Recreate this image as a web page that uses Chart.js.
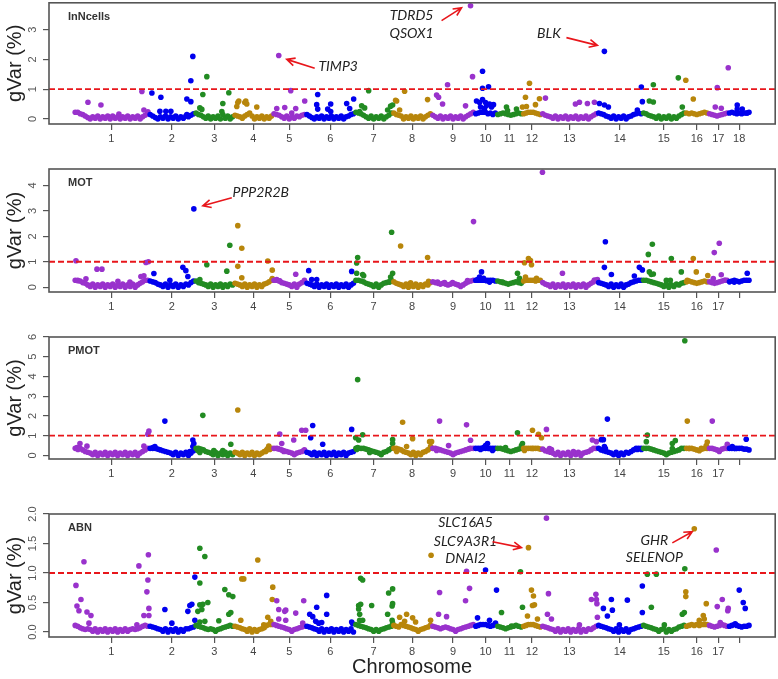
<!DOCTYPE html>
<html>
<head>
<meta charset="utf-8">
<script src="https://cdn.jsdelivr.net/npm/chart.js@4.4.1/dist/chart.umd.min.js"></script>
<style>
  body { margin: 0; background: #fff; }
  #wrap { position: relative; width: 778px; height: 679px; }
  .panel { position: absolute; left: 0; }
</style>
</head>
<body>
<div id="wrap">
  <canvas class="panel" id="p1" width="778" height="150" style="top:0px"></canvas>
  <canvas class="panel" id="p2" width="778" height="168" style="top:150px"></canvas>
  <canvas class="panel" id="p3" width="778" height="167" style="top:318px"></canvas>
  <canvas class="panel" id="p4" width="778" height="184" style="top:495px"></canvas>
</div>
<script>
// chromosomes and their width in marker blocks
const chromosomes = ["1","2","3","4","5","6","7","8","9","10","11","12","13","14","15","16","17","18"];
const chromSizes = [75, 46, 39, 39, 33, 49, 38, 39, 43, 22, 26, 19, 56, 45, 43, 23, 20, 22];
const chromColors = ["#9932CC", "#0000EE", "#228B22", "#B8860B"];
const threshold = 1;

// near-zero markers, one digit per marker block (digit * step = gVar %)
const innStep = 0.025, motStep = 0.03, pmotStep = 0.04, abnStep = 0.014;
const innBase = ["997642031403140413031403140357","642031403140314357","8653140314061403","5431468403140314",
  "7653140314356","64203140314031403467","987531403140358","8654031403140357","53140314031403579","789997868",
  "6787656787","78999876","7543140314031403140357","876431403140346787","87543140314031468","878767898","76545678","898787889"];
const motBase = ["998653140314031403140314035799","876431403140314368","8654314031403143","5431403140314579",
  "9986543140469","54314031403140314035","998754314035679","7543140314031436","76545434543135789","999999998",
  "8765456765","89999899","6431403140314031403579","654314031403467899","99876543140314356","787656787","76567899","789878999"];
const pmotBase = ["999754314031403140314031403579","999876543140314036","9987543140314031","4314031403135799",
  "9987654313457","43140314031403140345","999987654314579","9987543140314579","99876543134567899","999999999",
  "9987656789","99999998","8654314031403140345799","976543140314357999","99987654313456799","999876899","99876899","999999887"];
const abnBase = ["875434314031403140314134345787","765431403140314456","8765434313456787","7654314031345899",
  "9876543134567","76543140314031403140","987654313134567","8769876543134568","76545654313456789","789998789",
  "7654567876","78999876","7654314031403140314357","876543140314034567","87654313403134678","789898999","87678987","789876778"];

// [chromosome, position in chromosome, gVar %]
const innPeaks = [
  [1,14,0.56],[1,27,0.47],[1,45,0.16],[1,68,0.92],[1,70,0.3],[1,74,0.24],
  [2,3,0.87],[2,12,0.73],[2,11,0.26],[2,17,0.26],[2,22,0.26],[2,38,0.67],[2,42,0.58],[2,42,1.28],[2,44,2.1],[2,38,0.15],
  [3,5,0.37],[3,7,0.32],[3,8,0.82],[3,12,1.42],[3,27,0.25],[3,28,0.52],[3,34,0.88],
  [4,3,0.42],[4,4,0.55],[4,5,0.6],[4,11,0.55],[4,12,0.6],[4,13,0.5],[4,23,0.4],
  [5,4,0.35],[5,6,2.13],[5,12,0.38],[5,18,0.95],[5,19,0.2],[5,23,0.35],[5,32,0.6],
  [6,11,0.48],[6,12,0.82],[6,12,0.33],[6,22,0.33],[6,25,0.5],[6,25,0.25],[6,41,0.52],[6,44,0.35],[6,48,0.67],
  [7,5,0.25],[7,7,0.44],[7,10,0.37],[7,14,0.95],[7,33,0.3],[7,36,0.43],[7,38,0.47],
  [8,3,0.63],[8,4,0.6],[8,7,0.3],[8,12,0.93],[8,35,0.65],
  [9,5,0.8],[9,7,0.73],[9,11,0.5],[9,16,1.15],[9,34,0.44],[9,39,3.8],[9,41,1.42],
  [10,2,0.6],[10,5,0.55],[10,6,0.4],[10,8,0.65],[10,8,1.03],[10,8,1.6],[10,10,0.35],[10,11,0.55],[10,12,0.45],
  [10,14,1.08],[10,15,0.5],[10,17,0.4],[10,19,0.48],
  [11,10,0.4],[11,11,0.28],[11,20,0.33],
  [12,0,0.4],[12,3,0.73],[12,4,0.42],[12,7,1.2],[12,13,0.48],[12,17,0.68],
  [13,4,0.7],[13,34,0.5],[13,38,0.56],[13,46,0.52],[13,53,0.56],
  [14,2,0.52],[14,7,0.47],[14,7,2.27],[14,11,0.4],[14,40,0.3],[14,44,1.07],[14,45,0.58],
  [15,7,0.6],[15,11,0.57],[15,11,1.15],[15,36,1.38],[15,40,0.4],
  [16,0.5,1.3],[16,8,0.67],
  [17,7,0.4],[17,9,1.05],[17,13,0.36],[17,20,1.72],
  [18,9,0.47],[18,9,0.33],[18,14,0.33],[18,19,0.2]
];
const motPeaks = [
  [1,2,1.04],[1,4,0.25],[1,12,0.33],[1,23,0.71],[1,28,0.71],[1,44,0.23],[1,56,0.2],[1,67,0.42],[1,70,0.45],[1,72,0.97],[1,74.5,1.0],
  [2,5,0.54],[2,21,0.27],[2,34,0.78],[2,37,0.65],[2,39,0.42],[2,45,3.08],
  [3,5,0.3],[3,12,0.88],[3,32,0.63],[3,35,1.65],
  [4,4,2.42],[4,4,0.82],[4,8,1.53],[4,8,0.37],[4,34,1.03],[4,38.5,0.67],[4,38.5,0.34],
  [5,4,0.3],[5,7,0.25],[5,23,0.51],
  [6,3,0.65],[6,6,0.3],[6,11,0.3],[6,46,0.62],
  [7,2,0.95],[7,2,0.55],[7,3,1.17],[7,8,0.5],[7,9,0.45],[7,35,0.2],[7,36,0.4],[7,37,2.16],[7,38,0.55],
  [8,8,1.62],[8,18,0.17],[8,35,1.17],[8,36,0.23],
  [9,6,0.2],[9,13,0.18],[9,21,0.18],[9,36,0.26],[9,42,2.58],
  [10,3,0.3],[10,5,0.4],[10,7,0.6],[10,9,0.35],[10,12,0.25],[10,15,0.2],
  [11,6,0.2],[11,21,0.55],[11,23,0.35],
  [12,2,0.96],[12,3,0.4],[12,6,1.13],[12,8,1.05],[12,9,0.88],[12,14,0.35],
  [13,1,4.52],[13,21,0.55],[13,53,0.28],[13,56,0.3],
  [14,7,0.78],[14,8,1.79],[14,14,0.5],[14,37,0.44],[14,42,0.78],[14,45,0.68],
  [15,6,1.29],[15,7,0.6],[15,9,0.5],[15,10,1.69],[15,11,0.52],[15,24,0.27],[15,28,0.27],[15,29,1.13],[15,39,0.6],
  [16,2,0.27],[16,8,1.13],[16,11,0.6],[16,22.5,0.46],
  [17,5,0.34],[17,6,1.36],[17,11,1.73],[17,13,0.49],[17,17,0.27],
  [18,6,0.2],[18,19,0.55]
];
const pmotPeaks = [
  [1,3,0.4],[1,4,0.3],[1,6,0.6],[1,13,0.47],[1,70,0.47],[1,74,1.08],[1,75,1.23],
  [2,4,0.4],[2,6,0.45],[2,16,1.74],[2,41,0.2],[2,44,0.78],[2,44,0.45],[2,45,0.6],
  [3,3,0.25],[3,5,0.15],[3,8,2.03],[3,19,0.25],[3,28,0.25],[3,36,0.57],
  [4,4,2.3],[4,32,0.2],[4,34,0.35],[4,35,0.47],[4,36,0.3],
  [5,5,0.35],[5,7,1.08],[5,9,0.6],[5,11,0.2],[5,21,0.78],[5,29,1.28],[5,31,0.25],[5,33,1.28],
  [6,5,0.9],[6,7,1.52],[6,17,0.57],[6,46,1.32],
  [7,1,0.9],[7,2,0.3],[7,3,0.4],[7,3,3.84],[7,4,0.78],[7,8,1.05],[7,15,0.15],[7,38,0.8],[7,38,0.6],
  [8,4,0.2],[8,10,1.68],[8,14,0.45],[8,20,0.85],[8,37,0.7],[8,38,0.45],[8,39,0.7],
  [9,5,0.25],[9,8,1.74],[9,17,0.5],[9,35,1.55],[9,38,0.35],[9,39,0.77],
  [10,6,0.3],[10,9,0.4],[10,11,0.5],[10,13,0.6],[10,15,0.35],[10,18,0.25],
  [11,9,0.4],[11,21,1.15],[11,25,0.5],[11,26,0.6],
  [12,2,0.25],[12,10,1.28],[12,10,0.35],[12,16,1.07],[12,19,0.9],
  [13,5,1.32],[13,8,0.35],[13,10,0.3],[13,32,0.2],[13,51,0.78],[13,55,0.7],
  [14,4,0.8],[14,6,0.8],[14,7,0.45],[14,8,0.35],[14,10,1.84],[14,40,0.3],[14,44,0.3],
  [15,4,0.7],[15,5,1.03],[15,30,0.6],[15,30,0.35],[15,33,0.75],[15,42.5,5.81],
  [16,2,1.74],[16,4,0.35],[16,16,0.36],[16,21,0.5],[16,22,0.68],
  [17,4,1.74],[17,11,0.2],[17,19,0.57],
  [18,4,0.45],[18,7,0.35],[18,18,0.82]
];
const abnPeaks = [
  [1,2,0.79],[1,3,0.44],[1,5,0.36],[1,7,0.55],[1,10,1.19],[1,13,0.34],[1,15,0.15],[1,17,0.28],[1,63,0.12],[1,65,1.12],
  [1,70,0.28],[1,73,0.68],[1,74,0.88],[1,74.5,1.31],[1,75,0.28],[1,75,0.4],
  [2,16,0.38],[2,23,0.15],[2,39,0.35],[2,41,0.45],[2,43,0.47],[2,46,0.93],[2,46,0.2],
  [3,3,0.35],[3,5,1.42],[3,5,0.83],[3,5,0.46],[3,5,0.17],[3,7,0.38],[3,8,0.47],[3,10,1.28],[3,10,0.18],[3,13,0.5],
  [3,24,0.19],[3,30,0.72],[3,34,0.63],[3,34,0.3],[3,36,0.33],[3,38,0.6],
  [4,7,0.2],[4,8,0.9],[4,10,0.9],[4,24,1.22],[4,30,0.12],[4,34,0.25],[4,37,0.18],[4,38.5,0.55],[4,39,0.76],
  [5,4,0.53],[5,6,0.38],[5,6,0.22],[5,12,0.35],[5,13,0.37],[5,13,0.2],[5,23,0.32],[5,30,0.15],[5,31,0.53],
  [6,4,0.3],[6,7,0.26],[6,10,0.18],[6,11,0.42],[6,13,0.15],[6,16,0.16],[6,21,0.62],[6,21,0.3],[6,46,0.17],[6,47,0.14],
  [7,4,0.45],[7,4,0.39],[7,5,0.3],[7,5,0.2],[7,6,0.91],[7,6,0.47],[7,8,0.88],[7,8,0.2],[7,17,0.45],[7,33,0.3],
  [7,34,0.66],[7,37.5,0.44],[7,37.5,0.2],[7,38,0.73],[7,38,0.48],[7,38,0.15],
  [8,7,0.25],[8,12,0.18],[8,14,0.3],[8,20,0.24],[8,23,0.17],[8,38,0.2],[8,38.5,1.3],
  [9,7,0.3],[9,8,0.67],[9,15,0.26],[9,34,0.53],[9,35,1.03],[9,38,0.74],
  [10,3,0.24],[10,11,1.05],[10,15,0.2],[10,21,0.15],[10,22,0.71],
  [11,5,0.33],[11,15,0.1],[11,24,1.02],[11,26,0.42],
  [12,5,0.27],[12,6,1.43],[12,9,0.71],[12,10,0.45],[12,11,0.61],[12,12,0.46],[12,15,0.22],
  [13,5,1.93],[13,6,0.3],[13,7,0.65],[13,10,0.22],[13,38,0.12],[13,50,0.55],[13,54.5,0.64],[13,55,0.55],[13,55.5,0.48],[13,56,0.25],
  [14,6,0.4],[14,10,0.27],[14,14,0.55],[14,15,0.37],[14,22,0.12],[14,30,0.54],[14,45,0.78],[14,45,0.33],
  [15,5,0.98],[15,9,0.42],[15,14,0.98],[15,22,0.12],[15,40,0.3],[15,42,0.33],[15,42.5,1.07],
  [16,0.5,0.68],[16,0.5,0.6],[16,9,1.75],[16,14,0.2],[16,18,0.28],[16,19,0.22],[16,21,0.48],
  [17,8,1.39],[17,9,0.43],[17,12,0.16],[17,14,0.55],[17,19.5,0.36],[17,20,0.4],
  [18,7,0.14],[18,11,0.71],[18,15,0.5],[18,17,0.4]
];

// y axis ticks per panel
const innTicks = [0, 1, 2, 3];
const motTicks = [0, 1, 2, 3, 4];
const pmotTicks = [0, 1, 2, 3, 4, 5, 6];
const abnTicks = [0, 0.5, 1, 1.5, 2];

// gene labels: text lines, x in genome units, y per line, arrow [x1,y1,x2,y2]
const innNotes = [
  { lines: ["TDRD5", "QSOX1"], x: 338, y: [3.47, 2.87], arrow: [368, 3.3, 388, 3.73] },
  { lines: ["BLK"], x: 475.5, y: [2.87], arrow: [493, 2.73, 524, 2.47] },
  { lines: ["TIMP3"], x: 264.5, y: [1.77], arrow: [241, 1.7, 213, 2.0] }
];
const motNotes = [
  { lines: ["PPP2R2B"], x: 187, y: [3.72], arrow: [158, 3.52, 129, 3.2] }
];
const abnNotes = [
  { lines: ["SLC16A5", "SLC9A3R1", "DNAI2"], x: 392, y: [1.85, 1.53, 1.24], arrow: [419, 1.53, 448, 1.43] },
  { lines: ["GHR", "SELENOP"], x: 581, y: [1.55, 1.26], arrow: [599, 1.51, 619, 1.7] }
];


const FONT = "'Liberation Sans', Arial, sans-serif";
Chart.defaults.font.family = FONT;

const offsets = [];
let genomeLen = 0;
chromSizes.forEach(s => { offsets.push(genomeLen); genomeLen += s; });
const mids = chromSizes.map((s, i) => offsets[i] + s / 2);

function buildPoints(base, step, peaks) {
    const pts = [];
    base.forEach((str, c) => {
        for (let i = 0; i < str.length; i++) {
            pts.push({ x: offsets[c] + (i + 0.5) * chromSizes[c] / str.length, y: Number(str[i]) * step, c: c });
        }
    });
    peaks.forEach(([chr, pos, val]) => pts.push({ x: offsets[chr - 1] + pos, y: val, c: chr - 1 }));
    pts.sort((a, b) => a.x - b.x);
    return pts;
}

function drawArrow(ctx, x1, y1, x2, y2) {
    const a = Math.atan2(y2 - y1, x2 - x1), h = 9;
    ctx.beginPath();
    ctx.moveTo(x1, y1);
    ctx.lineTo(x2, y2);
    ctx.moveTo(x2 - h * Math.cos(a - 0.45), y2 - h * Math.sin(a - 0.45));
    ctx.lineTo(x2, y2);
    ctx.lineTo(x2 - h * Math.cos(a + 0.45), y2 - h * Math.sin(a + 0.45));
    ctx.stroke();
}

// frame, rotated y tick labels, panel name and gene labels
const decor = {
    id: "decor",
    afterDraw(chart, args, o) {
        const { ctx, chartArea: a, scales: { x, y } } = chart;
        ctx.save();
        ctx.strokeStyle = "#555";
        ctx.lineWidth = 1.6;
        ctx.strokeRect(a.left, a.top, a.right - a.left, a.bottom - a.top);

        ctx.fillStyle = "#555";
        ctx.font = "11px " + FONT;
        ctx.textAlign = "center";
        ctx.textBaseline = "middle";
        o.ticks.forEach(v => {
            ctx.save();
            ctx.translate(a.left - 16, y.getPixelForValue(v));
            ctx.rotate(-Math.PI / 2);
            ctx.fillText(o.decimals ? v.toFixed(1) : String(v), 0, 0);
            ctx.restore();
        });

        ctx.fillStyle = "#333";
        ctx.font = "bold 11px " + FONT;
        ctx.textAlign = "left";
        ctx.fillText(o.name, a.left + 19, a.top + 14);

        ctx.font = "italic 14px Lato, sans-serif";
        ctx.textAlign = "center";
        ctx.strokeStyle = "#e8161b";
        ctx.lineWidth = 1.6;
        o.notes.forEach(n => {
            ctx.fillStyle = "#222";
            n.lines.forEach((t, k) => ctx.fillText(t, x.getPixelForValue(n.x), y.getPixelForValue(n.y[k])));
            const [x1, y1, x2, y2] = n.arrow;
            drawArrow(ctx, x.getPixelForValue(x1), y.getPixelForValue(y1), x.getPixelForValue(x2), y.getPixelForValue(y2));
        });
        ctx.restore();
    }
};

function makePanel(id, p) {
    const pts = buildPoints(p.base, p.step, p.peaks);
    const xLabels = chromosomes.map(c => (p.hide18 && c === "18") ? "" : c);
    new Chart(document.getElementById(id), {
        type: "scatter",
        data: {
            datasets: [
                {
                    data: [{ x: -25, y: threshold }, { x: genomeLen + 25, y: threshold }],
                    showLine: true,
                    borderColor: "#e8161b",
                    borderWidth: 1.8,
                    borderDash: [6, 3],
                    pointRadius: 0
                },
                {
                    data: pts,
                    pointRadius: 2.8,
                    pointHoverRadius: 2.8,
                    pointBorderWidth: 0,
                    pointBackgroundColor: pts.map(pt => chromColors[pt.c % 4])
                }
            ]
        },
        options: {
            responsive: false,
            animation: false,
            events: [],
            layout: { padding: { top: p.padTop, right: 2, left: 0, bottom: 0 } },
            plugins: {
                legend: { display: false },
                tooltip: { enabled: false },
                decor: { name: p.name, ticks: p.ticks, decimals: p.decimals, notes: p.notes }
            },
            scales: {
                x: {
                    type: "linear",
                    min: -25,
                    max: genomeLen + 25,
                    afterBuildTicks: s => { s.ticks = mids.map(v => ({ value: v })); },
                    afterFit: s => { s.height = p.xh; },
                    ticks: {
                        autoSkip: false, maxRotation: 0, minRotation: 0, padding: 2,
                        color: "#444", font: { size: 11 },
                        callback: (v, i) => xLabels[i]
                    },
                    grid: { drawOnChartArea: false, tickLength: 6, color: "#555", lineWidth: 1.2 },
                    border: { display: false },
                    title: {
                        display: !!p.xTitle, text: "Chromosome", color: "#222",
                        font: { size: 20 }, padding: { top: 0, bottom: 0 }
                    }
                },
                y: {
                    min: p.yMin,
                    max: p.yMax,
                    afterBuildTicks: s => { s.ticks = p.ticks.map(v => ({ value: v })); },
                    afterFit: s => { s.width = 49; },
                    ticks: { display: false },
                    grid: { drawOnChartArea: false, tickLength: 6, color: "#555", lineWidth: 1.2 },
                    border: { display: false },
                    title: {
                        display: true, text: "gVar (%)", color: "#222",
                        font: { size: 20 }, padding: { top: 3, bottom: 0 }
                    }
                }
            }
        },
        plugins: [decor]
    });
}

makePanel("p1", { name: "InNcells", base: innBase, step: innStep, peaks: innPeaks, ticks: innTicks, notes: innNotes,
    yMin: -0.17, yMax: 3.9, padTop: 2, xh: 26 });
makePanel("p2", { name: "MOT", base: motBase, step: motStep, peaks: motPeaks, ticks: motTicks, notes: motNotes,
    yMin: -0.19, yMax: 4.65, padTop: 19, xh: 26, hide18: true });
makePanel("p3", { name: "PMOT", base: pmotBase, step: pmotStep, peaks: pmotPeaks, ticks: pmotTicks, notes: [],
    yMin: -0.18, yMax: 6.0, padTop: 19, xh: 26, hide18: true });
makePanel("p4", { name: "ABN", base: abnBase, step: abnStep, peaks: abnPeaks, ticks: abnTicks, notes: abnNotes, decimals: true,
    yMin: -0.085, yMax: 2.0, padTop: 19, xh: 42, hide18: true, xTitle: true });
</script>
</body>
</html>
